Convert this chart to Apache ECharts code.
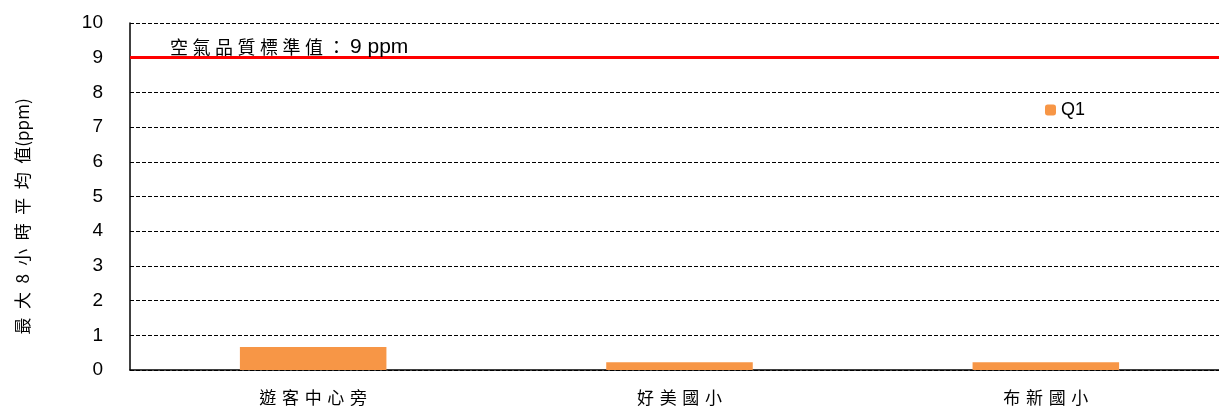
<!DOCTYPE html>
<html style="height: 100%">
<head>
    <meta charset="utf-8">
    <script src="https://cdn.jsdelivr.net/npm/echarts@6/dist/echarts.min.js"></script>
</head>
<body style="height: 100%; margin: 0; background: #fff; overflow: hidden;">
    <div id="container" style="width: 1229px; height: 410px;"></div>
    <script type="text/javascript">
        // 資料
        var stations = ['遊客中心旁', '好美國小', '布新國小'];
        var q1Values = [0.66, 0.22, 0.22];
        var standardValue = 9;
        var yTicks = [0, 10, 1]; // min, max, interval

        var cjk = '"Noto Sans CJK TC", "Noto Sans CJK SC", sans-serif';
        var latin = '"Liberation Sans", Arial, sans-serif';
        // 字距用空白
        function spaced(s, sp) { return s.split('').join(sp || '\u2004'); }

        var myChart = echarts.init(document.getElementById('container'));
        var option = {
            animation: false,
            grid: { left: 130, right: 0, top: 23, height: 347 },
            legend: {
                data: ['Q1'],
                left: 1040,
                top: 96,
                itemWidth: 11,
                itemHeight: 11,
                itemGap: 5,
                textStyle: { fontFamily: latin, fontSize: 18, color: '#000' }
            },
            xAxis: {
                type: 'category',
                data: stations,
                axisLine: { lineStyle: { color: '#000', width: 1.5 } },
                axisTick: { inside: true, length: 6, lineStyle: { color: '#000' } },
                axisLabel: {
                    fontFamily: cjk, fontSize: 17, color: '#000', margin: 19,
                    formatter: function (v) { return spaced(v); }
                }
            },
            yAxis: {
                type: 'value',
                min: yTicks[0],
                max: yTicks[1],
                interval: yTicks[2],
                name: spaced('最大8小時平均值', '\u2002') + '(ppm)',
                nameLocation: 'middle',
                nameGap: 99,
                nameTextStyle: { fontFamily: cjk, fontSize: 17, color: '#000', padding: [0, 40, 0, 0] },
                axisLine: { show: true, lineStyle: { color: '#000', width: 1.5 } },
                axisTick: { show: false },
                axisLabel: { fontFamily: latin, fontSize: 19, color: '#000', margin: 27 },
                splitLine: { lineStyle: { color: '#000', type: [4, 2], width: 1 } }
            },
            series: [{
                name: 'Q1',
                type: 'bar',
                data: q1Values,
                barWidth: '40%',
                itemStyle: { color: '#F79646' },
                markLine: {
                    silent: true,
                    symbol: 'none',
                    lineStyle: { color: '#ff0000', width: 3, type: 'solid' },
                    label: {
                        show: true,
                        position: 'insideStartTop',
                        distance: [40, 0],
                        formatter: spaced('空氣品質標準值：', '\u2005') + '\u2005{n|9 ppm}',
                        fontFamily: cjk,
                        fontSize: 18,
                        color: '#000',
                        rich: { n: { fontFamily: latin, fontSize: 21, color: '#000' } }
                    },
                    data: [{ yAxis: standardValue }]
                }
            }]
        };
        myChart.setOption(option);
    </script>
</body>
</html>
